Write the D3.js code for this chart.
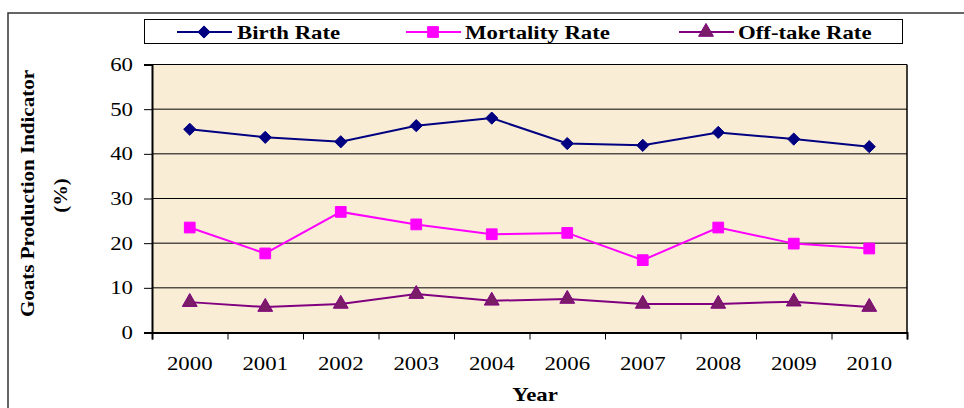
<!DOCTYPE html>
<html>
<head>
<meta charset="utf-8">
<script src="https://cdn.jsdelivr.net/npm/d3@7"></script>
<style>
  body { margin: 0; background: #fff; }
  text { font-family: "Liberation Serif", "Times New Roman", serif; }
</style>
</head>
<body>
<script>
var width = 964,
    height = 408;
var margin = {left: 152, right: 57, top: 64.5, bottom: 75};

// data
var years = ["2000","2001","2002","2003","2004","2006","2007","2008","2009","2010"];
var birthRate = [45.5, 43.7, 42.7, 46.3, 48.0, 42.3, 41.9, 44.8, 43.3, 41.6];
var mortalityRate = [23.5, 17.7, 27.0, 24.2, 22.0, 22.3, 16.2, 23.5, 19.9, 18.8];
var offtakeRate = [6.8, 5.7, 6.4, 8.6, 7.1, 7.5, 6.4, 6.4, 6.9, 5.7];
var yTicks = [0, 10, 20, 30, 40, 50, 60];

var series = [
  {name: "Birth Rate", values: birthRate, color: "#000080", fill: "#000080", symbol: d3.symbolDiamond2, size: 95, lx: 177, tx: 237},
  {name: "Mortality Rate", values: mortalityRate, color: "#FF00FF", fill: "#FF00FF", symbol: d3.symbolSquare, size: 115, lx: 406, tx: 465},
  {name: "Off-take Rate", values: offtakeRate, color: "#800080", fill: "#7a1d66", symbol: d3.symbolTriangle, size: 95, lx: 679, tx: 738}
];

// the picture's text is a bit wider than the font, stretch it
function stretch(sel, k) {
  sel.each(function() {
    var w = this.getComputedTextLength();
    d3.select(this).attr("textLength", w * k).attr("lengthAdjust", "spacingAndGlyphs");
  });
}

var svg = d3.select("body").append("svg")
    .attr("width", width)
    .attr("height", height);

// outer chart frame
svg.append("rect")
    .attr("x", 8).attr("y", 13)
    .attr("width", 1000).attr("height", 500)
    .attr("fill", "none")
    .attr("stroke", "#333")
    .attr("stroke-width", 1.5);

var x = d3.scaleBand()
    .domain(years)
    .range([margin.left, width - margin.right]);
var xEdge = d3.scaleLinear()
    .domain([0, years.length])
    .range([margin.left, width - margin.right]);
var y = d3.scaleLinear()
    .domain([0, 60])
    .range([height - margin.bottom - 0.5, margin.top]);

// plot area
svg.append("rect")
    .attr("x", margin.left).attr("y", y(60))
    .attr("width", width - margin.right - margin.left)
    .attr("height", y(0) - y(60))
    .attr("fill", "#FAEDD6");

// grid lines
svg.append("g").selectAll("line")
    .data(yTicks.filter(function(d) { return d > 0; }))
    .enter().append("line")
    .attr("x1", margin.left).attr("x2", width - margin.right)
    .attr("y1", function(d) { return y(d); })
    .attr("y2", function(d) { return y(d); })
    .attr("stroke", "#000")
    .attr("stroke-width", 1);

// right border
svg.append("line")
    .attr("x1", width - margin.right).attr("x2", width - margin.right)
    .attr("y1", y(60)).attr("y2", y(0))
    .attr("stroke", "#000").attr("stroke-width", 1.5);

// y axis
var yAxis = svg.append("g")
    .attr("transform", "translate(" + margin.left + ",0)")
    .call(d3.axisLeft(y).tickValues(yTicks).tickSize(8).tickPadding(11));
yAxis.select(".domain").attr("stroke-width", 2);
yAxis.selectAll("text")
    .attr("font-size", 19)
    .attr("font-family", "Liberation Serif")
    .attr("fill", "#000")
    .call(stretch, 1.2);

// x axis: tick marks at band edges, labels at band centres
var xTicks = svg.append("g")
    .attr("transform", "translate(0," + y(0) + ")")
    .call(d3.axisBottom(xEdge).tickValues(d3.range(years.length + 1)).tickFormat("").tickSize(7));
xTicks.select(".domain").attr("stroke-width", 2);

var xLabels = svg.append("g")
    .attr("transform", "translate(0," + y(0) + ")")
    .call(d3.axisBottom(x).tickSize(0).tickPadding(24));
xLabels.select(".domain").remove();
xLabels.selectAll("text")
    .attr("font-size", 19)
    .attr("font-family", "Liberation Serif")
    .attr("fill", "#000")
    .call(stretch, 1.2);

// lines and markers
var line = d3.line()
    .x(function(d, i) { return x(years[i]) + x.bandwidth() / 2; })
    .y(function(d) { return y(d); });

series.forEach(function(s) {
  svg.append("path")
      .attr("d", line(s.values))
      .attr("fill", "none")
      .attr("stroke", s.color)
      .attr("stroke-width", 2);
  svg.append("g").selectAll("path")
      .data(s.values)
      .enter().append("path")
      .attr("transform", function(d, i) {
        return "translate(" + (x(years[i]) + x.bandwidth() / 2) + "," + y(d) + ")";
      })
      .attr("d", d3.symbol().type(s.symbol).size(s.size))
      .attr("fill", s.fill)
      .attr("stroke", s.color)
      .attr("stroke-width", 1);
});

// legend
var legend = svg.append("g");
legend.append("rect")
    .attr("x", 144.5).attr("y", 19.5)
    .attr("width", 758).attr("height", 24)
    .attr("fill", "#fff")
    .attr("stroke", "#000")
    .attr("stroke-width", 1);
series.forEach(function(s) {
  legend.append("line")
      .attr("x1", s.lx).attr("x2", s.lx + 55)
      .attr("y1", 32).attr("y2", 32)
      .attr("stroke", s.color)
      .attr("stroke-width", 2);
  legend.append("path")
      .attr("transform", "translate(" + (s.lx + 27) + ",32)")
      .attr("d", d3.symbol().type(s.symbol).size(s.size))
      .attr("fill", s.fill)
      .attr("stroke", s.color);
  legend.append("text")
      .attr("x", s.tx).attr("y", 38.5)
      .attr("font-size", 19)
      .attr("font-weight", "bold")
      .text(s.name)
      .call(stretch, 1.2);
});

// axis titles
svg.append("text")
    .attr("transform", "translate(34,193.5) rotate(-90)")
    .attr("text-anchor", "middle")
    .attr("font-size", 18)
    .attr("font-weight", "bold")
    .text("Goats Production Indicator")
    .attr("textLength", 247)
    .attr("lengthAdjust", "spacingAndGlyphs");
svg.append("text")
    .attr("transform", "translate(67,195.5) rotate(-90)")
    .attr("text-anchor", "middle")
    .attr("font-size", 18)
    .attr("font-weight", "bold")
    .text("(%)")
    .call(stretch, 1.15);
svg.append("text")
    .attr("x", 535).attr("y", 401)
    .attr("text-anchor", "middle")
    .attr("font-size", 19)
    .attr("font-weight", "bold")
    .text("Year")
    .call(stretch, 1.2);
</script>
</body>
</html>
